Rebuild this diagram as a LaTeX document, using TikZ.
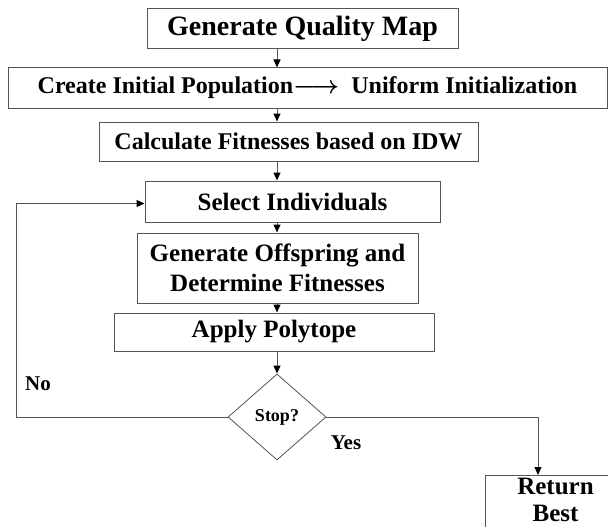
\documentclass[tikz,border=0pt]{standalone}
\usepackage{fontspec}
\setmainfont{Liberation Serif}
\usetikzlibrary{positioning, arrows.meta, shapes.geometric, calc}
\definecolor{edge}{HTML}{555555}
\tikzset{
  proc/.style={draw=edge, line width=1pt, align=center, inner sep=0pt,
               font=\fontsize{24}{30}\selectfont\bfseries},
  big/.style={font=\fontsize{25}{30}\selectfont\bfseries},
  dec/.style={draw=edge, diamond, line width=0.8pt, aspect=1.15, inner sep=0pt,
              minimum width=98pt, minimum height=86pt,
              font=\fontsize{18}{20}\selectfont\bfseries},
  ar/.style={-{Triangle[length=8pt, width=7pt, black]}, line width=1pt, edge},
  lbl/.style={font=\fontsize{21}{24}\selectfont\bfseries},
}

\begin{document}
\begin{tikzpicture}[x=1pt, y=-1pt]
  \useasboundingbox (0,0) rectangle (608,527);
  \clip (0,0) rectangle (608,527);

  % --- main column ---
  \node[proc, font=\fontsize{28}{30}\selectfont\bfseries, minimum width=311pt, minimum height=40pt]
       (quality) at (302.5,29) {Generate Quality Map};
  \node[proc, minimum width=599pt, minimum height=40pt] (init) at (307.5,88)
       {Create Initial Population{\boldmath$\longrightarrow$}\ \ Uniform Initialization};
  \node[proc, minimum width=379pt, minimum height=39pt] (fit) at (288.5,141.5) {Calculate Fitnesses based on IDW};
  \node[proc, big, minimum width=295pt, minimum height=41pt] (sel) at (292.5,201.5) {Select Individuals};
  \node[proc, big, minimum width=281pt, minimum height=70pt] (off) at (277.5,268)
       {Generate Offspring and\\Determine Fitnesses};
  \node[proc, big, minimum width=320pt, minimum height=38pt] (poly) at (274,332) {Apply Polytope};
  \node[dec] (stop) at (277,417) {Stop?};
  \node[proc, big, minimum width=140pt, minimum height=64pt, text depth=16pt, anchor=north west]
       (ret) at (485,475) {Return\\[-3pt]Best};
  \coordinate (loop) at (16,417);

  % --- arrows ---
  \draw[ar] (quality.south -| stop.north) -- (init.north -| stop.north);
  \draw[ar] (init.south -| stop.north) -- (fit.north -| stop.north);
  \draw[ar] (fit.south -| stop.north) -- (sel.north -| stop.north);
  \draw[ar] (sel.south -| stop.north) -- (off.north -| stop.north);
  \draw[ar] (off.south -| stop.north) -- (poly.north -| stop.north);
  \draw[ar] (poly.south -| stop.north) -- (stop.north);
  \draw[ar] (stop.west) -- (loop) |- ([yshift=-2pt]sel.west);
  \draw[ar] (stop.east) -| ([xshift=53pt]ret.north west);

  % --- labels ---
  \node[lbl] (no) at (38,384) {No};
  \node[lbl] (yes) at (346,443) {Yes};

\end{tikzpicture}
\end{document}
